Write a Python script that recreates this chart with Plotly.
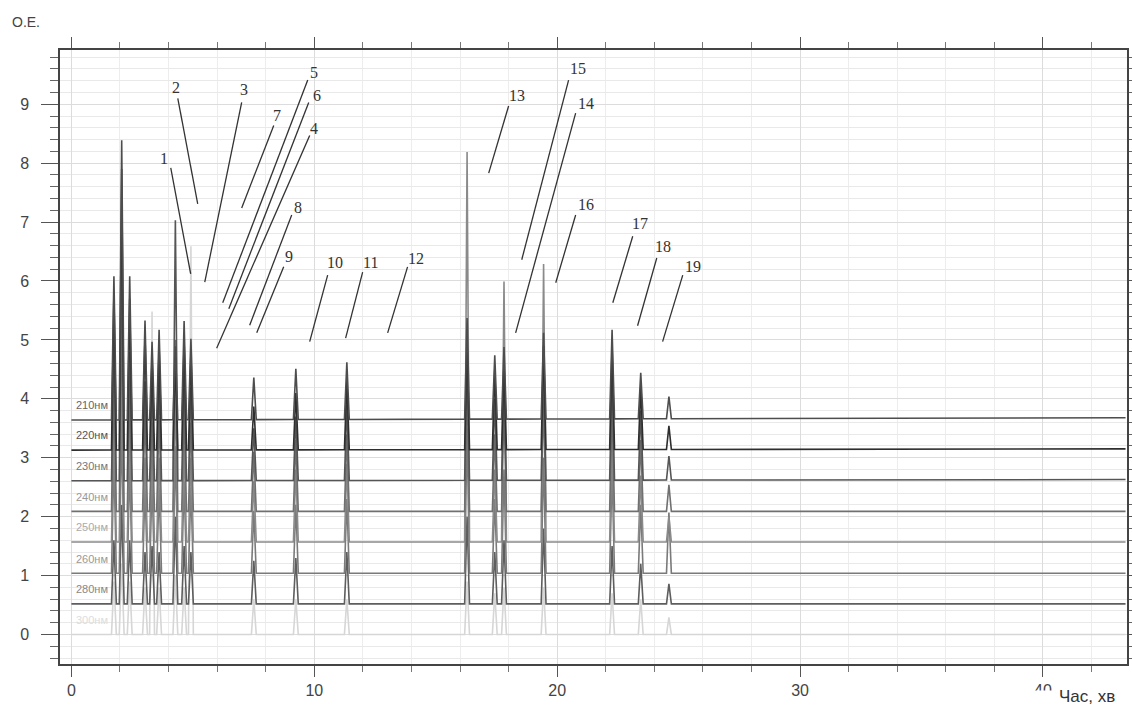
import plotly.graph_objects as go

# ---- data ----
wavelengths = ["210нм", "220нм", "230нм", "240нм", "250нм", "260нм", "280нм", "300нм"]
baseline_start = [3.64, 3.13, 2.61, 2.09, 1.57, 1.04, 0.52, 0.00]
baseline_end = [3.68, 3.15, 2.63, 2.09, 1.57, 1.04, 0.52, 0.00]
run_end = 43.4

peak_times = [1.75, 2.07, 2.40, 3.03, 3.32, 3.61, 4.28, 4.64, 4.92,
              7.51, 9.24, 11.34, 16.29, 17.43, 17.81, 19.44, 22.26, 23.44, 24.60]

# absolute apex level of each peak for each wavelength (O.E.)
apex_210 = [6.08, 8.39, 6.08, 5.33, 4.97, 5.17, 4.89, 5.32, 5.02, 4.36, 4.51, 4.62, 5.37, 4.74, 4.88, 5.12, 5.17, 4.44, 4.04]
apex_220 = [5.80, 7.90, 5.70, 5.10, 4.70, 4.90, 4.70, 5.00, 4.80, 3.87, 4.10, 4.30, 5.00, 4.50, 4.60, 4.90, 4.90, 4.20, 3.54]
apex_230 = [5.00, 6.50, 4.80, 4.30, 4.20, 4.30, 7.03, 4.40, 4.20, 3.50, 3.70, 3.90, 4.60, 4.00, 4.20, 4.50, 4.40, 3.80, 3.03]
apex_240 = [4.40, 5.50, 4.20, 3.80, 3.60, 3.70, 5.00, 3.80, 3.60, 3.10, 3.30, 3.40, 4.30, 3.40, 3.90, 4.00, 3.90, 3.30, 2.54]
apex_250 = [3.60, 4.50, 3.50, 3.00, 3.10, 3.00, 4.20, 3.20, 3.00, 2.60, 2.80, 2.90, 8.19, 2.80, 5.99, 6.29, 3.40, 2.70, 2.00]
apex_260 = [3.00, 3.60, 2.90, 2.50, 2.60, 2.50, 3.20, 2.60, 2.50, 2.10, 2.20, 2.30, 3.50, 2.30, 2.80, 3.00, 2.80, 2.20, 2.07]
apex_280 = [1.60, 2.20, 1.60, 1.40, 1.50, 1.40, 2.00, 1.50, 1.40, 1.25, 1.30, 1.40, 2.00, 1.40, 1.60, 1.80, 1.50, 1.20, 0.86]
apex_300 = [0.90, 1.20, 0.90, 0.80, 5.48, 0.80, 1.00, 0.80, 6.59, 0.60, 0.60, 0.60, 0.90, 0.70, 0.80, 0.80, 0.70, 0.60, 0.29]
apex_all = [apex_210, apex_220, apex_230, apex_240, apex_250, apex_260, apex_280, apex_300]

# peak labels (numbers) and their leader lines
label_text = ["1", "2", "3", "4", "5", "6", "7", "8", "9", "10",
              "11", "12", "13", "14", "15", "16", "17", "18", "19"]
label_x = [3.80, 4.29, 7.09, 9.98, 9.98, 10.10, 8.45, 9.32, 8.95, 10.84,
           12.32, 14.17, 18.33, 21.17, 20.84, 21.17, 23.40, 24.34, 25.58]
label_y = [8.08, 9.29, 9.25, 8.59, 9.54, 9.14, 8.81, 7.25, 6.41, 6.31,
           6.31, 6.39, 9.14, 9.02, 9.61, 7.29, 6.98, 6.58, 6.25]
lead_x0 = [4.09, 4.38, 7.01, 9.81, 9.73, 9.77, 8.33, 9.07, 8.74, 10.55,
           11.99, 13.84, 18.00, 20.76, 20.47, 20.76, 23.11, 24.10, 25.17]
lead_y0 = [7.92, 9.10, 9.03, 8.47, 9.41, 9.03, 8.64, 7.12, 6.24, 6.10,
           6.15, 6.24, 8.97, 8.85, 9.41, 7.12, 6.76, 6.39, 6.10]
lead_x1 = [4.91, 5.20, 5.49, 5.98, 6.23, 6.48, 7.01, 7.34, 7.63, 9.81,
           11.29, 13.02, 17.18, 18.29, 18.54, 19.94, 22.29, 23.31, 24.34]
lead_y1 = [6.12, 7.31, 5.98, 4.86, 5.63, 5.53, 7.24, 5.25, 5.12, 4.97,
           5.03, 5.12, 7.83, 5.12, 6.36, 5.97, 5.63, 5.24, 4.97]

# ---- styles ----
line_colors = ["#4d4d4d", "#2e2e2e", "#555555", "#707070", "#8a8a8a", "#7a7a7a", "#5e5e5e", "#d6d6d6"]
label_colors = ["#666666", "#555555", "#777777", "#999999", "#aaaaaa", "#999999", "#888888", "#dddddd"]
half_width = 0.1

fig = go.Figure()

# draw lowest (300нм) first so the upper traces sit on top
for i in reversed(range(len(wavelengths))):
    b0, b1 = baseline_start[i], baseline_end[i]
    xs, ys = [0.0], [b0]
    for t, a in zip(peak_times, apex_all[i]):
        b = b0 + (b1 - b0) * t / run_end
        xs += [t - half_width, t, t + half_width]
        ys += [b, a, b]
    xs.append(run_end)
    ys.append(b1)
    fig.add_trace(go.Scatter(x=xs, y=ys, mode="lines",
                             line=dict(color=line_colors[i], width=1.6),
                             hoverinfo="skip", showlegend=False))
    fig.add_annotation(x=0.1, y=b0 + 0.25, text=wavelengths[i], showarrow=False,
                       xanchor="left", yanchor="middle",
                       font=dict(family="Liberation Sans, Arial", size=11, color=label_colors[i]))

for i, txt in enumerate(label_text):
    fig.add_shape(type="line", x0=lead_x0[i], y0=lead_y0[i], x1=lead_x1[i], y1=lead_y1[i],
                  xref="x", yref="y", line=dict(color="#333333", width=1.3))
    fig.add_annotation(x=label_x[i], y=label_y[i], text=txt, showarrow=False,
                       xanchor="center", yanchor="middle",
                       font=dict(family="Liberation Serif, Times New Roman", size=16, color="#333333"))

# white patch that partly hides the "40" tick label, as in the original
fig.add_shape(type="rect", xref="paper", yref="paper", x0=0.905, x1=1.0, y0=-0.13, y1=-0.043,
              fillcolor="white", line=dict(width=0), layer="above")

fig.add_annotation(xref="paper", yref="paper", x=0.9625, y=-0.053, text="Час, хв",
                   showarrow=False, xanchor="center", yanchor="middle",
                   font=dict(family="Liberation Sans, Arial", size=17, color="#333333"))
fig.add_annotation(xref="paper", yref="paper", x=-0.047, y=1.0456, text="O.E.",
                   showarrow=False, xanchor="left", yanchor="middle",
                   font=dict(family="Liberation Sans, Arial", size=14, color="#444444"))

fig.update_layout(
    width=1132, height=707,
    margin=dict(l=60, r=5, t=50, b=43, autoexpand=False),
    paper_bgcolor="white", plot_bgcolor="white",
    font=dict(family="Liberation Sans, Arial", size=16, color="#333333"),
    xaxis=dict(range=[-0.47, 43.46], dtick=10, tick0=0, automargin=False,
               showgrid=True, gridcolor="#dcdcdc", gridwidth=1,
               zeroline=False, showline=True, linecolor="#444444", linewidth=1.5,
               mirror="allticks", ticks="outside", ticklen=11, tickwidth=1.3, tickcolor="#555555",
               minor=dict(dtick=2, tick0=0, ticks="outside", ticklen=6, tickcolor="#777777",
                          showgrid=True, gridcolor="#ededed", gridwidth=1),
               tickfont=dict(size=16, color="#444444")),
    yaxis=dict(range=[-0.5, 9.92], dtick=1, tick0=0, automargin=False,
               showgrid=True, gridcolor="#dcdcdc", gridwidth=1.2,
               zeroline=False, showline=True, linecolor="#444444", linewidth=1.5,
               mirror="allticks", ticks="outside", ticklen=17, tickwidth=1.3, tickcolor="#555555",
               ticklabelstandoff=9,
               minor=dict(dtick=0.2, tick0=0, ticks="outside", ticklen=8, tickcolor="#666666",
                          showgrid=True, gridcolor="#e9e9e9", gridwidth=1),
               tickfont=dict(size=16, color="#444444")),
)

fig.write_html("out.html")
